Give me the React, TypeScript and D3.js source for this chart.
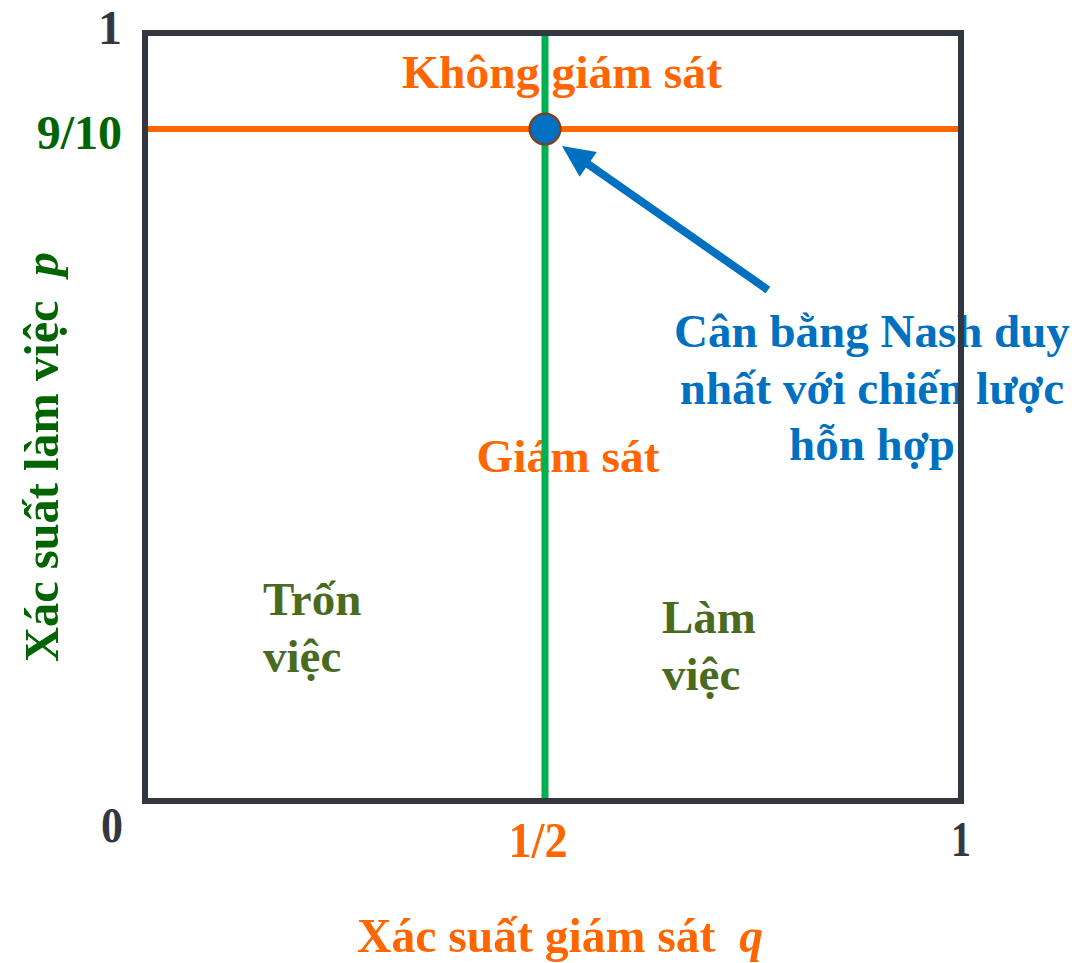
import * as d3 from 'd3'

// equilibrium of the inspection game
const qStar = 0.5
const pStar = 0.9

const xTickValues = [0, 0.5, 1]
const xTickLabels = ['0', '1/2', '1']
const yTickValues = [1, 0.9]
const yTickLabels = ['1', '9/10']

const xTitle = 'Xác suất giám sát'
const yTitle = 'Xác suất làm việc'
const topLabel = 'Không giám sát'
const midLabel = 'Giám sát'
const shirkLabel = ['Trốn', 'việc']
const workLabel = ['Làm', 'việc']
const nashLabel = ['Cân bằng Nash duy', 'nhất với chiến lược', 'hỗn hợp']

const W = 1090
const H = 963
const FONT = "'Liberation Serif', 'Times New Roman', serif"
const ORANGE = '#ff6600'
const GREEN_LINE = '#00b050'
const DARK_GREEN = '#006400'
const OLIVE = '#4a6b1f'
const BLUE = '#0070c0'
const INK = '#333840'

export default function App() {
  // the drawing is schematic, so the scales are piecewise to match the sketch
  const x = d3.scaleLinear().domain([0, qStar, 1]).range([145, 545, 961])
  const y = d3.scaleLinear().domain([0, pStar, 1]).range([801, 129, 33])

  // arrow pointing at the equilibrium
  const tip: [number, number] = [x(qStar) + 17, y(pStar) + 17]
  const tail: [number, number] = [768, 290]
  const dx = tip[0] - tail[0]
  const dy = tip[1] - tail[1]
  const len = Math.hypot(dx, dy)
  const ux = dx / len
  const uy = dy / len
  const headLen = 32
  const headW = 15
  const base: [number, number] = [tip[0] - ux * headLen, tip[1] - uy * headLen]
  const head = [
    tip,
    [base[0] - uy * headW, base[1] + ux * headW],
    [base[0] + uy * headW, base[1] - ux * headW],
  ]

  const xTickStyle = (i: number) =>
    i === 0
      ? { dx: -33, y: 842, len: 22, fill: INK }
      : i === 1
        ? { dx: -7, y: 857, len: 59, fill: ORANGE }
        : { dx: 0, y: 856, len: 20, fill: INK }

  return (
    <svg width={W} height={H} style={{ position: 'absolute', left: 0, top: 0, background: '#fff' }} fontFamily={FONT}>
      {/* labels inside the plot (drawn first, lines sit on top) */}
      <g fontWeight="bold" fontSize={47}>
        <text x={562} y={88} textAnchor="middle" fill={ORANGE} textLength={320} lengthAdjust="spacingAndGlyphs">{topLabel}</text>
        <text x={568} y={472} textAnchor="middle" fill={ORANGE} textLength={183} lengthAdjust="spacingAndGlyphs">{midLabel}</text>
        {shirkLabel.map((t, i) => (
          <text key={t} x={263} y={615 + i * 57} fill={OLIVE}>{t}</text>
        ))}
        {workLabel.map((t, i) => (
          <text key={t} x={662} y={633 + i * 57} fill={OLIVE}>{t}</text>
        ))}
        {nashLabel.map((t, i) => (
          <text key={t} x={872} y={347 + i * 56.5} textAnchor="middle" fill={BLUE}>{t}</text>
        ))}
      </g>

      {/* best response lines */}
      <line x1={x(qStar)} x2={x(qStar)} y1={y(1)} y2={y(0)} stroke={GREEN_LINE} strokeWidth={7} />
      <line x1={x(0)} x2={x(1)} y1={y(pStar)} y2={y(pStar)} stroke={ORANGE} strokeWidth={6} />

      {/* frame */}
      <rect x={x(0)} y={y(1)} width={x(1) - x(0)} height={y(0) - y(1)} fill="none" stroke={INK} strokeWidth={6} />

      {/* arrow + equilibrium point */}
      <line x1={tail[0]} y1={tail[1]} x2={base[0] + ux * 4} y2={base[1] + uy * 4} stroke={BLUE} strokeWidth={8} />
      <polygon points={head.map(p => p.join(',')).join(' ')} fill={BLUE} />
      <circle cx={x(qStar)} cy={y(pStar)} r={15.5} fill={BLUE} stroke="#8b3a10" strokeWidth={2} />

      {/* y ticks */}
      {yTickValues.map((v, i) => (
        <text key={v} x={122} y={y(v) + (i === 0 ? 11 : 20)} textAnchor="end" fontWeight="bold"
          fontSize={48} fill={i === 0 ? INK : DARK_GREEN}>{yTickLabels[i]}</text>
      ))}

      {/* x ticks */}
      {xTickValues.map((v, i) => {
        const s = xTickStyle(i)
        return (
          <text key={v} x={x(v) + s.dx} y={s.y} textAnchor="middle" fontWeight="bold" fontSize={50}
            fill={s.fill} textLength={s.len} lengthAdjust="spacingAndGlyphs">{xTickLabels[i]}</text>
        )
      })}

      {/* axis titles */}
      <text x={357} y={952} fill={ORANGE} fontWeight="bold" fontSize={49} textLength={406} lengthAdjust="spacingAndGlyphs">
        {xTitle}{'\u00a0\u00a0'}<tspan fontStyle="italic">q</tspan>
      </text>
      <text transform="translate(58,662) rotate(-90)" fill={DARK_GREEN} fontWeight="bold" fontSize={48}
        textLength={410} lengthAdjust="spacingAndGlyphs">
        {yTitle}{'\u00a0\u00a0'}<tspan fontStyle="italic">p</tspan>
      </text>
    </svg>
  )
}
